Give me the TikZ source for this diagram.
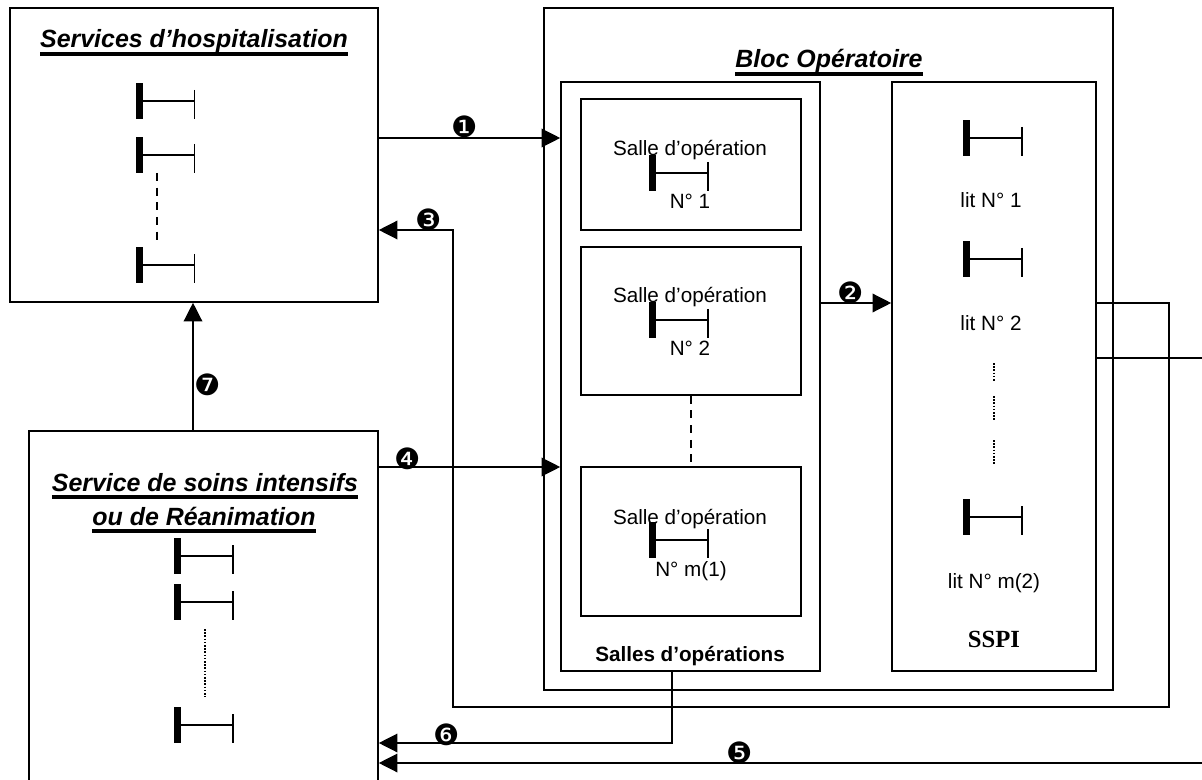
\documentclass[tikz,border=0pt]{standalone}
\usepackage{fontspec}
\usetikzlibrary{arrows.meta,fit}
\setmainfont{Liberation Sans}
\newfontfamily\empatt{Liberation Serif}
\newfontfamily\puces{DejaVu Sans}
\tikzset{lit/.pic={
  \fill (0,0) rectangle (7,36);
  \draw[line width=1pt] (7,18) -- (59,18);
  \draw[line width=0.8pt] (59,7) -- (59,36);
}}
\begin{document}
\begin{tikzpicture}[x=0.75pt,y=-0.75pt,
  boite/.style = {draw, inner sep=0pt, line width=1.2pt},
  trait/.style = {line width=1pt},
  fleche/.style = {line width=1pt, -{Triangle[length=14pt,width=14pt]}},
  tirets/.style = {line width=1pt, dash pattern=on 6pt off 5pt},
  pointille/.style = {line width=1pt, dash pattern=on 1.2pt off 1.2pt},
  titre/.style = {anchor=base, inner sep=0pt, outer sep=0pt, text depth=4.5pt, font=\fontsize{18.7}{20}\selectfont\bfseries\itshape},
  souligne/.style = {line width=2.4pt},
  texte/.style = {anchor=base, inner sep=0pt, font=\fontsize{15.5}{17}\selectfont},
  puce/.style = {inner sep=0pt, font=\fontsize{22}{24}\selectfont\puces}]
  \useasboundingbox (0,0) rectangle (1202,780);
  \clip (0,0) rectangle (1202,780);
  \node[boite, fit={(10,8) (378,302)}] (hospi) {};
  \node[boite, fit={(29,431) (378,800)}] (soins) {};
  \node[boite, fit={(544,8) (1113,690)}] (bloc) {};
  \node[boite, fit={(561,82) (820,671)}] (salles) {};
  \node[boite, fit={(892,82) (1096,671)}] (sspi) {};
  \node[boite, fit={(581,99) (801,230)}] (salle1) {};
  \node[boite, fit={(581,247) (801,395)}] (salle2) {};
  \node[boite, fit={(581,467) (801,616)}] (salle3) {};
  \node[titre] (titrehospi) at (194,48) {Services d’hospitalisation};
  \node[titre] (titrebloc) at (829,68) {Bloc Opératoire};
  \node[titre] (titresoins1) at (205,491) {Service de soins intensifs};
  \node[titre] (titresoins2) at (204,525) {ou de Réanimation};
  \draw[souligne] (titrehospi.south west) -- (titrehospi.south east);
  \draw[souligne] (titrebloc.south west) -- (titrebloc.south east);
  \draw[souligne] (titresoins1.south west) -- (titresoins1.south east);
  \draw[souligne] (titresoins2.south west) -- (titresoins2.south east);
  \node[texte] (nom1) at (690,156) {Salle d’opération};
  \node[texte] (num1) at (690,209) {N° 1};
  \node[texte] (nom2) at (690,303) {Salle d’opération};
  \node[texte] (num2) at (690,355) {N° 2};
  \node[texte] (nom3) at (690,524) {Salle d’opération};
  \node[texte] (num3) at (691,576) {N° m(1)};
  \node[texte] (lit1) at (991,208) {lit N° 1};
  \node[texte] (lit2) at (991,330) {lit N° 2};
  \node[texte] (lit3) at (994,588) {lit N° m(2)};
  \node[texte, font=\fontsize{15.5}{17}\selectfont\bfseries] (nomsalles) at (690,661) {Salles d’opérations};
  \node[texte, font=\fontsize{18.5}{20}\selectfont\empatt\bfseries] (nomsspi) at (994,647) {SSPI};
  \foreach \x/\y in {135.5/83, 135.5/137, 135.5/247, 174/538, 174/584, 174/707, 649/155, 649/302, 649/522, 963/120, 963/241, 963/499}
    \pic at (\x,\y) {lit};
  \draw[tirets] (157,173) -- (157,242);
  \draw[tirets] (salle2.south) -- (salle3.north);
  \draw[pointille] (205,629) -- (205,697);
  \draw[pointille] (994,363) -- (994,381);
  \draw[pointille] (994,396) -- (994,421);
  \draw[pointille] (994,440) -- (994,465);
  \coordinate (sortie) at (1202,358);
  \coordinate (retour) at (1202,763);
  \draw[fleche] (hospi.east |- 0,138) -- (salles.west |- 0,138);
  \draw[fleche] (salles.east |- 0,303) -- (sspi.west |- 0,303);
  \draw[fleche] (sspi.east |- 0,303) -- (1169,303) -- (1169,707) -- (453,707) -- (453,230) -- (hospi.east |- 0,230);
  \draw[fleche] (soins.east |- 0,467) -- (salles.west |- 0,467);
  \draw[trait] (sspi.east |- 0,358) -- (sortie);
  \draw[fleche] (retour) -- (soins.east |- 0,763);
  \draw[fleche] (salles.south -| 672,0) |- (soins.east |- 0,743);
  \draw[fleche] (soins.north -| 193,0) -- (hospi.south -| 193,0);
  \node[puce] (p1) at (465,127) {❶};
  \node[puce] (p2) at (851,293) {❷};
  \node[puce] (p3) at (429,220) {❸};
  \node[puce] (p4) at (408,459) {❹};
  \node[puce] (p5) at (740,753) {❺};
  \node[puce] (p6) at (447,735) {❻};
  \node[puce] (p7) at (208,385) {❼};
\end{tikzpicture}
\end{document}
